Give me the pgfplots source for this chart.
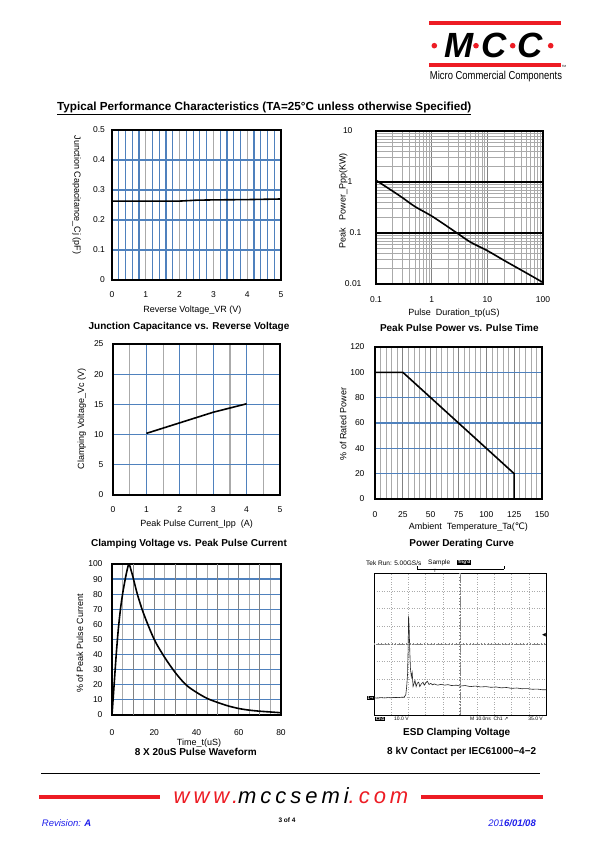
\documentclass[border=0pt]{standalone}
\usepackage{fontspec}
\setmainfont{Liberation Sans}
\newfontfamily\dejavu{DejaVu Sans}
\newfontfamily\webfont[LetterSpace=18]{Liberation Sans}
\usepackage{pgfplots}
\pgfplotsset{compat=1.18}
\definecolor{gblue}{RGB}{79,129,189}
\definecolor{ggray}{RGB}{170,170,170}
\definecolor{dgray}{RGB}{130,130,130}
\definecolor{mccred}{RGB}{237,28,36}
\definecolor{revblue}{RGB}{30,30,235}
\pgfplotsset{
  mccaxis/.style={
    scale only axis, anchor=south west,
    axis line style={line width=1.5pt},
    major tick length=0pt, minor tick length=0pt,
    tick style={draw=none},
    tick label style={font=\fontsize{8.5}{10}\selectfont},
    label style={font=\fontsize{9}{10}\selectfont},
    /pgf/number format/assume math mode=true,
    xticklabel style={anchor=base, yshift=-18pt},
    xlabel style={anchor=center},
    ylabel style={anchor=center},
    grid=both,
  }
}
\pgfplotstableread{
x y
0 0.263
1 0.263
2 0.263
2.5 0.266
3 0.267
4 0.268
5 0.27
}\cjdata
\pgfplotstableread{
x y
0.1 1.08
0.2 0.66
0.3 0.49
0.5 0.33
1 0.215
2 0.13
3 0.096
5 0.066
10 0.045
20 0.029
50 0.0165
100 0.0107
}\ppdata
\pgfplotstableread{
x y
1 10.2
2 11.95
3 13.7
4 15.1
}\vcdata
\pgfplotstableread{
x y
0 100
25 100
125 20
125 0
}\derdata
\pgfplotstableread{
x y
0 0
1 20
2 40
3 57
4 70
5 80
6 88
7 95
8 100
9 96
10 91
12 80
15 67
20 50
25 38
30 28
35 20
40 15
45 11
50 8.3
55 6
60 4.3
65 3.2
70 2.5
75 2
80 1.5
}\pwdata
\pgfplotstableread{
x y
0 0.97
0.2 0.95
0.4 0.98
0.6 0.96
0.8 0.98
1.0 0.97
1.2 0.99
1.4 0.98
1.6 1.0
1.75 1.0
1.85 1.15
1.9 1.6
1.95 2.3
1.98 3.5
2.01 5.6
2.04 5.0
2.08 3.6
2.12 2.6
2.17 2.15
2.22 2.4
2.27 1.6
2.32 1.75
2.38 1.95
2.45 1.6
2.52 1.8
2.6 1.85
2.66 1.6
2.75 1.75
2.85 1.85
2.92 1.68
3.0 1.8
3.1 1.9
3.2 1.72
3.3 1.78
3.4 1.7
3.5 1.75
3.7 1.68
3.9 1.73
4.1 1.68
4.3 1.71
4.5 1.66
4.8 1.68
5.0 1.63
5.3 1.66
5.6 1.6
5.9 1.63
6.2 1.58
6.5 1.6
6.8 1.56
7.1 1.58
7.4 1.53
7.7 1.55
8.0 1.5
8.3 1.52
8.6 1.48
8.9 1.49
9.2 1.45
9.5 1.46
9.8 1.42
10 1.42
}\esddata
\begin{document}
\begin{tikzpicture}
\path[use as bounding box, fill=white] (0pt,0pt) rectangle (595pt,842pt);

% ---------- header logo ----------
\fill[mccred] (429pt,816.7pt) rectangle (561pt,820.7pt);
\fill[mccred] (429pt,775.3pt) rectangle (561pt,778.7pt);
\node[font=\bfseries\itshape\fontsize{35}{37}\selectfont] at (459pt,796.3pt) {M};
\node[font=\bfseries\itshape\fontsize{35}{37}\selectfont] at (494pt,796.3pt) {C};
\node[font=\bfseries\itshape\fontsize{35}{37}\selectfont] at (530.5pt,796.3pt) {C};
\fill[mccred] (434.3pt,796.3pt) circle (2.8pt);
\fill[mccred] (476pt,796.3pt) circle (2.8pt);
\fill[mccred] (512.7pt,796.3pt) circle (2.8pt);
\fill[mccred] (550.7pt,796.3pt) circle (2.8pt);
\node[inner sep=0pt] at (496pt,765.3pt) {\scalebox{0.82}[1]{\fontsize{11.5}{12}\selectfont Micro Commercial Components}};
\node[inner sep=0pt, font=\fontsize{3}{3}\selectfont] at (564pt,776pt) {TM};

% ---------- title ----------
\node[anchor=west, inner sep=0pt, font=\bfseries\fontsize{11.7}{13}\selectfont] at (57pt,733.7pt) {\underline{Typical Performance Characteristics (TA=25°C unless otherwise Specified)}};

% ---------- axis 1 : junction capacitance ----------
\begin{axis}[mccaxis, at={(112pt,562pt)}, width=169pt, height=150pt,
  xmin=0, xmax=5, ymin=0, ymax=0.5,
  xtick={0,1,2,3,4,5}, ytick={0,0.1,0.2,0.3,0.4,0.5},
  yticklabels={0,0.1,0.2,0.3,0.4,0.5},
  minor x tick num=4,
  major x grid style={ggray, line width=1.2pt},
  minor x grid style={gblue, line width=1.2pt},
  major y grid style={gblue, line width=1.2pt},
  yticklabel style={xshift=-3.5pt},
  xlabel={Reverse Voltage\_VR (V)},
  ylabel={Junction Capacitance\_Cj (pF)},
  xlabel style={at={(axis description cs:0.476,-0.2)}},
  ylabel style={at={(axis description cs:-0.209,0.567)}, rotate=180},
]
\addplot[black, line width=1.6pt] table[x=x,y=y] {\cjdata};
\end{axis}
\node[font=\bfseries\fontsize{10}{12}\selectfont] at (189pt,514.6pt) {Junction Capacitance vs. Reverse Voltage};

% ---------- axis 2 : peak pulse power ----------
\begin{axis}[mccaxis, at={(376pt,558pt)}, width=167pt, height=153pt,
  xmode=log, ymode=log,
  xmin=0.1, xmax=100, ymin=0.01, ymax=10,
  xtick={0.1,1,10,100}, xticklabels={0.1,1,10,100},
  ytick={0.01,0.1,1,10}, yticklabels={0.01,0.1,1\kern9pt,10\kern9pt},
  xticklabel style={yshift=-1pt},
  yticklabel style={anchor=east, xshift=-11pt},
  major x grid style={dgray, line width=0.9pt},
  major y grid style={black, line width=1.1pt},
  minor grid style={ggray, line width=0.6pt},
  xlabel={Pulse\ \ Duration\_tp(uS)},
  ylabel={Peak\ \ \ Power\_Ppp(KW)},
  xlabel style={at={(axis description cs:0.467,-0.19)}},
  ylabel style={at={(axis description cs:-0.196,0.544)}},
]
\addplot[black, line width=1.6pt, smooth] table[x=x,y=y] {\ppdata};
\end{axis}
\node[font=\bfseries\fontsize{10}{12}\selectfont] at (459.3pt,514.4pt) {Peak Pulse Power vs. Pulse Time};

% ---------- axis 3 : clamping voltage ----------
\begin{axis}[mccaxis, at={(113pt,347pt)}, width=167pt, height=151pt,
  xmin=0, xmax=5, ymin=0, ymax=25,
  xtick={0,1,2,3,4,5}, ytick={0,5,10,15,20,25},
  minor x tick num=1,
  major x grid style={gblue, line width=1.2pt},
  minor x grid style={ggray, line width=1.2pt},
  major y grid style={gblue, line width=1.2pt},
  yticklabel style={xshift=-6pt},
  xlabel={Peak Pulse Current\_Ipp\ \ (A)},
  ylabel={Clamping Voltage\_Vc (V)},
  xlabel style={at={(axis description cs:0.501,-0.194)}},
  ylabel style={at={(axis description cs:-0.187,0.503)}},
]
\addplot[black, line width=1.6pt] table[x=x,y=y] {\vcdata};
\end{axis}
\node[font=\bfseries\fontsize{10}{12}\selectfont] at (189pt,298.5pt) {Clamping Voltage vs. Peak Pulse Current};

% ---------- axis 4 : power derating ----------
\begin{axis}[mccaxis, at={(375pt,343pt)}, width=167pt, height=152pt,
  xmin=0, xmax=150, ymin=0, ymax=120,
  xtick={0,25,50,75,100,125,150}, ytick={0,20,40,60,80,100,120},
  minor x tick num=4,
  xticklabel style={yshift=-1pt},
  major x grid style={dgray, line width=1pt},
  minor x grid style={ggray, line width=0.7pt},
  major y grid style={gblue, line width=1.2pt},
  yticklabel style={xshift=-7pt},
  xlabel={Ambient\ \ Temperature\_Ta({\dejavu ℃})},
  ylabel={\% of Rated Power},
  xlabel style={at={(axis description cs:0.559,-0.186)}},
  ylabel style={at={(axis description cs:-0.19,0.493)}},
]
\addplot[black, line width=1.6pt] table[x=x,y=y] {\derdata};
\end{axis}
\node[font=\bfseries\fontsize{10}{12}\selectfont] at (461.7pt,298.5pt) {Power Derating Curve};

% ---------- axis 5 : pulse waveform ----------
\begin{axis}[mccaxis, at={(112pt,127pt)}, width=169pt, height=151pt,
  xmin=0, xmax=80, ymin=0, ymax=100,
  xtick={0,20,40,60,80}, ytick={0,10,...,100},
  minor x tick num=3,
  extra x ticks={10,30,50,70}, extra x tick labels={},
  extra x tick style={grid=major, major grid style={dgray, line width=1pt}},
  xticklabel style={yshift=-2.7pt},
  major x grid style={dgray, line width=1pt},
  minor x grid style={ggray, line width=0.8pt},
  major y grid style={gblue, line width=1.2pt},
  yticklabel style={xshift=-6pt},
  xlabel={Time\_t(uS)},
  ylabel={\% of Peak Pulse Current},
  xlabel style={at={(axis description cs:0.515,-0.187)}},
  ylabel style={at={(axis description cs:-0.19,0.474)}},
]
\addplot[black, line width=1.6pt, smooth] table[x=x,y=y] {\pwdata};
\end{axis}
\node[font=\bfseries\fontsize{10}{12}\selectfont] at (195.8pt,89.7pt) {8 X 20uS Pulse Waveform};

% ---------- axis 6 : ESD oscilloscope ----------
\begin{axis}[scale only axis, anchor=south west, at={(374pt,127pt)}, width=172pt, height=142pt,
  xmin=0, xmax=10, ymin=0, ymax=8,
  xtick={1,...,9}, ytick={1,...,7},
  xticklabels={}, yticklabels={},
  major tick length=0pt, tick style={draw=none},
  axis line style={line width=0.7pt, black},
  grid=major, major grid style={ggray, line width=0.5pt, dotted},
]
\draw[dgray, line width=0.5pt, densely dotted] (axis cs:5,0) -- (axis cs:5,8);
\draw[dgray, line width=0.5pt, densely dotted] (axis cs:0,4) -- (axis cs:10,4);
\draw[dgray, line width=2.4pt, dash pattern=on 0.5pt off 2.94pt] (axis cs:5,0) -- (axis cs:5,8);
\draw[dgray, line width=2.4pt, dash pattern=on 0.5pt off 3.05pt] (axis cs:0,4) -- (axis cs:10,4);
\addplot[black!85, line width=0.6pt] table[x=x,y=y] {\esddata};
\end{axis}
% scope annotations
\node[anchor=west, inner sep=0pt, font=\fontsize{6.5}{7}\selectfont] at (366pt,279.3pt) {Tek Run: 5.00GS/s};
\node[anchor=west, inner sep=0pt, font=\fontsize{6.5}{7}\selectfont] at (428pt,279.3pt) {Sample};
\node[anchor=west, inner sep=0.6pt, fill=black, text=white, font=\bfseries\fontsize{4.5}{5}\selectfont] at (457pt,279.3pt) {Trig'd};
\draw[line width=0.4pt] (417pt,273pt) -- (504pt,273pt);
\draw[line width=0.4pt] (417pt,273pt) -- (417pt,276pt);
\draw[line width=0.4pt] (504pt,273pt) -- (504pt,276pt);
\node[inner sep=0pt, font=\fontsize{4.5}{5}\selectfont] at (435pt,271.5pt) {T};
\node[anchor=west, inner sep=0.6pt, fill=black, text=white, font=\bfseries\fontsize{4.5}{5}\selectfont] at (375pt,123pt) {Ch1};
\node[anchor=west, inner sep=0pt, font=\fontsize{5}{6}\selectfont] at (394pt,123pt) {10.0 V};
\node[anchor=west, inner sep=0pt, font=\fontsize{5}{6}\selectfont] at (470pt,123pt) {M 10.0ns\ \ Ch1 {\dejavu ↗}};
\node[anchor=east, inner sep=0pt, font=\fontsize{5}{6}\selectfont] at (543pt,123pt) {35.0 V};
\node[anchor=east, inner sep=0.5pt, fill=black, text=white, font=\bfseries\fontsize{4}{5}\selectfont] at (374pt,144.3pt) {1{\dejavu →}};
\node[inner sep=0pt, font=\dejavu\fontsize{5}{6}\selectfont] at (544pt,207pt) {◀};
\node[font=\bfseries\fontsize{10}{12}\selectfont] at (456.7pt,108.7pt) {ESD Clamping Voltage};
\node[font=\bfseries\fontsize{10}{12}\selectfont] at (461.7pt,89.7pt) {8 kV Contact per IEC61000−4−2};

% ---------- footer ----------
\draw[line width=0.8pt] (41pt,68.7pt) -- (540pt,68.7pt);
\fill[mccred] (39pt,42.5pt) rectangle (160pt,47pt);
\fill[mccred] (420.7pt,42.5pt) rectangle (542.7pt,47pt);
\node[anchor=base, inner sep=0pt, font=\webfont\itshape\fontsize{22}{24}\selectfont] at (291pt,38.5pt) {\textcolor{mccred}{www.}mccsemi\textcolor{mccred}{.com}};
\node[anchor=base west, inner sep=0pt, text=revblue, font=\itshape\fontsize{9.5}{11}\selectfont] at (41.7pt,15.5pt) {Revision: \textbf{A}};
\node[inner sep=0pt, font=\bfseries\fontsize{6.5}{7}\selectfont] at (287pt,22pt) {3 of 4};
\node[anchor=base east, inner sep=0pt, text=revblue, font=\itshape\fontsize{9.5}{11}\selectfont] at (536pt,15.5pt) {201\textbf{6/01/08}};
\end{tikzpicture}
\end{document}
